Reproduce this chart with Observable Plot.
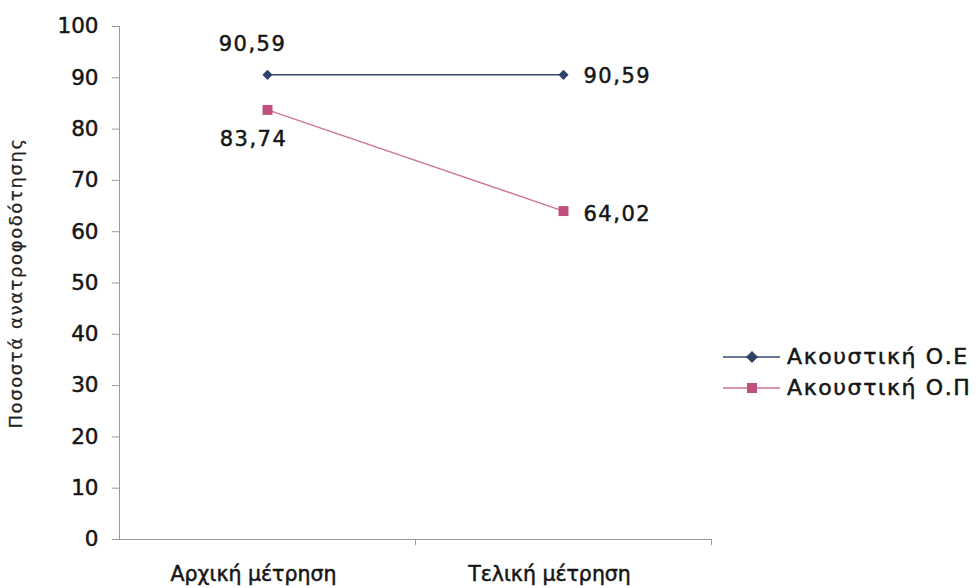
<!DOCTYPE html>
<html>
<head>
<meta charset="utf-8">
<script src="https://cdn.jsdelivr.net/npm/d3@7"></script>
<script src="https://cdn.jsdelivr.net/npm/@observablehq/plot@0.6"></script>
<style>
  html, body { margin: 0; padding: 0; background: #fff; }
  #wrap { position: relative; width: 978px; height: 588px; overflow: hidden; font-family: "DejaVu Sans", sans-serif; }
  #legend { position: absolute; left: 723px; top: 341px; }
  .lg-row { display: flex; align-items: center; height: 31px; white-space: nowrap; }
  .lg-row span { font-size: 22px; letter-spacing: 1.6px; color: #161616; margin-left: 7px; -webkit-text-stroke: 0.5px #161616; }
  svg text { stroke: #161616; stroke-width: 0.5px; }
  g[aria-label="y-axis label"] text { font-family: "DejaVu Sans", sans-serif; font-size: 18px; letter-spacing: 1.6px; fill: #222; stroke: #222; stroke-width: 0.25px; }
</style>
</head>
<body>
<div id="wrap"></div>
<script>
const categories = ["Αρχική μέτρηση", "Τελική μέτρηση"];
const seriesNames = ["Ακουστική Ο.Ε", "Ακουστική Ο.Π"];
const valuesOE = [90.59, 90.59];
const valuesOP = [83.74, 64.02];
const yTicks = [0, 10, 20, 30, 40, 50, 60, 70, 80, 90, 100];
const yTitle = "Ποσοστά ανατροφοδότησης";
const colors = ["#2f4468", "#c0507c"];
const lineColors = ["#34496c", "#cf7396"];

const seriesValues = [valuesOE, valuesOP];
const rows = seriesNames.flatMap((s, si) =>
  categories.map((c, i) => ({series: s, si, i, pos: i + 0.5, cat: c, value: seriesValues[si][i]}))
);
const fmt = v => v.toFixed(2).replace(".", ",");
const pick = (si, i) => rows.filter(d => d.si === si && (i === undefined || d.i === i));

const chart = Plot.plot({
  width: 978,
  height: 588,
  marginLeft: 119,
  marginRight: 267,
  marginTop: 26,
  marginBottom: 49,
  style: {fontFamily: "DejaVu Sans, sans-serif", background: "#fff", color: "#161616"},
  x: {domain: [0, categories.length], axis: null},
  y: {domain: [0, 100], axis: null},
  marks: [
    Plot.axisY(yTicks, {tickSize: 7, tickPadding: 14, fontSize: 21.5, stroke: "#9a9a9a", fill: "#161616", label: null}),
    Plot.axisY([], {label: yTitle, labelAnchor: "center", labelOffset: 110, labelArrow: "none", tickSize: 0}),
    Plot.axisX([1, 2], {tickSize: 6, tickFormat: () => "", stroke: "#9a9a9a", label: null}),
    Plot.axisX(categories.map((c, i) => i + 0.5), {tickSize: 0, tickPadding: 27, fontSize: 20.5, dx: -14, tickFormat: v => categories[Math.floor(v)], fill: "#161616", label: null}),
    Plot.ruleX([0], {y1: 0, y2: 100, stroke: "#9a9a9a"}),
    Plot.ruleY([0], {x1: 0, x2: categories.length, stroke: "#9a9a9a"}),
    Plot.line(rows, {x: "pos", y: "value", z: "series", stroke: d => lineColors[d.si], strokeWidth: 1.4}),
    Plot.dot(pick(0), {x: "pos", y: "value", symbol: "diamond2", fill: colors[0], r: 4.6, stroke: "none"}),
    Plot.dot(pick(1), {x: "pos", y: "value", symbol: "square", fill: colors[1], r: 5.6, stroke: "none"}),
    Plot.text(pick(0, 0), {x: "pos", y: "value", text: d => fmt(d.value), dx: -15, dy: -31, fontSize: 21, fill: "#161616"}),
    Plot.text(pick(1, 0), {x: "pos", y: "value", text: d => fmt(d.value), dx: -14, dy: 29, fontSize: 21, fill: "#161616"}),
    Plot.text(pick(0, 1), {x: "pos", y: "value", text: d => fmt(d.value), dx: 20, dy: 1, textAnchor: "start", fontSize: 21, fill: "#161616"}),
    Plot.text(pick(1, 1), {x: "pos", y: "value", text: d => fmt(d.value), dx: 20, dy: 3, textAnchor: "start", fontSize: 21, fill: "#161616"})
  ]
});
chart.querySelectorAll('g[aria-label="text"] text').forEach(t => t.setAttribute("letter-spacing", "1.5px"));

const wrap = document.getElementById("wrap");
wrap.appendChild(chart);

const legend = document.createElement("div");
legend.id = "legend";
seriesNames.forEach((name, si) => {
  const row = document.createElement("div");
  row.className = "lg-row";
  const sym = si === 0
    ? `<path d="M29,6 L35,12 L29,18 L23,12 Z" fill="${colors[si]}"/>`
    : `<rect x="24" y="7" width="10" height="10" fill="${colors[si]}"/>`;
  row.innerHTML = `<svg width="57" height="24" style="display:block"><line x1="0" x2="57" y1="12" y2="12" stroke="${lineColors[si]}" stroke-width="1.5"/>${sym}</svg><span>${name}</span>`;
  legend.appendChild(row);
});
wrap.appendChild(legend);
</script>
</body>
</html>
